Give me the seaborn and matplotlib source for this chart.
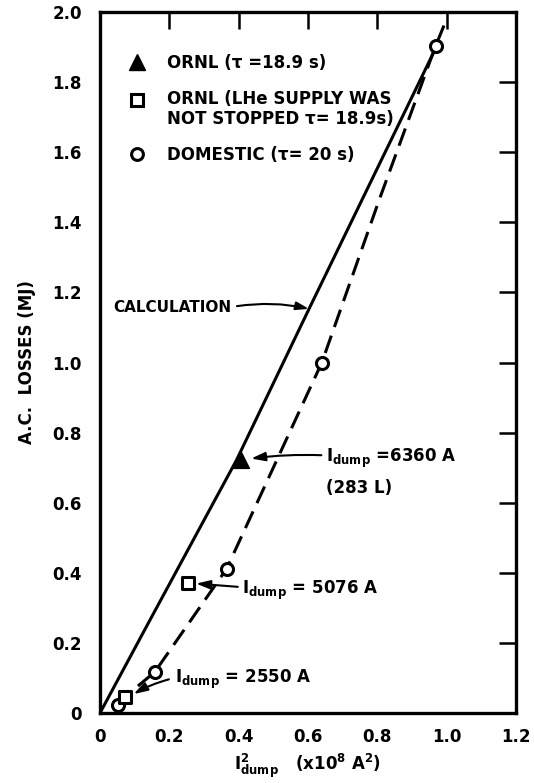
import numpy as np
import pandas as pd
import matplotlib
matplotlib.use("Agg")
import matplotlib.pyplot as plt
from matplotlib.lines import Line2D
from matplotlib.legend_handler import HandlerLine2D
import seaborn as sns

# ---------------- data ----------------
calc_x = [0.0, 0.144, 0.394, 0.603, 0.965]
calc_y = [0.0, 0.265, 0.722, 1.153, 1.890]

fit_x = [0.05, 0.072, 0.158, 0.365, 0.64, 0.805, 0.968, 1.0]
fit_y = [0.025, 0.046, 0.117, 0.411, 1.00, 1.463, 1.903, 1.98]

dom_x = [0.052, 0.158, 0.365, 0.64, 0.968]
dom_y = [0.023, 0.117, 0.411, 1.00, 1.903]

ornl_x = [0.408]
ornl_y = [0.722]

ornl_sq_x = [0.072, 0.253]
ornl_sq_y = [0.046, 0.371]

x_ticks = [0, 0.2, 0.4, 0.6, 0.8, 1.0, 1.2]
x_ticklabels = ["0", "0.2", "0.4", "0.6", "0.8", "1.0", "1.2"]
y_ticks = [0, 0.2, 0.4, 0.6, 0.8, 1.0, 1.2, 1.4, 1.6, 1.8, 2.0]
y_ticklabels = ["0", "0.2", "0.4", "0.6", "0.8", "1.0", "1.2", "1.4", "1.6", "1.8", "2.0"]

legend_labels = ["ORNL (τ =18.9 s)",
                 "ORNL (LHe SUPPLY WAS\nNOT STOPPED τ= 18.9s)",
                 "DOMESTIC (τ= 20 s)"]

# ---------------- style ----------------
sns.set_theme(style="white")
plt.rcParams["font.family"] = ["DejaVu Sans"]
plt.rcParams["font.weight"] = "bold"
plt.rcParams["mathtext.fontset"] = "dejavusans"
for k in ["text.color", "axes.labelcolor", "xtick.color", "ytick.color", "axes.edgecolor"]:
    plt.rcParams[k] = "black"

FS = 12
fig = plt.figure(figsize=(5.34, 7.83), dpi=100)
ax = fig.add_axes([100 / 534, 1 - 713 / 783, 416 / 534, 701 / 783])

calc_df = pd.DataFrame({"x": calc_x, "y": calc_y})
fit_df = pd.DataFrame({"x": fit_x, "y": fit_y})
sns.lineplot(data=calc_df, x="x", y="y", ax=ax, color="black", lw=2.2,
             sort=False, estimator=None)
sns.lineplot(data=fit_df, x="x", y="y", ax=ax, color="black", lw=2.2,
             sort=False, estimator=None, linestyle=(0, (6, 3)))

sns.scatterplot(x=dom_x, y=dom_y, ax=ax, marker="o", s=75, facecolor="white",
                edgecolor="black", linewidth=2.2, zorder=5)
sns.scatterplot(x=ornl_sq_x, y=ornl_sq_y, ax=ax, marker="s", s=85, facecolor="white",
                edgecolor="black", linewidth=2.2, zorder=5)
sns.scatterplot(x=ornl_x, y=ornl_y, ax=ax, marker="^", s=130, color="black",
                edgecolor="black", linewidth=1, zorder=5)

ax.set_xlim(0, 1.2)
ax.set_ylim(0, 2.0)
ax.set_xticks(x_ticks)
ax.set_xticklabels(x_ticklabels, fontsize=FS, fontweight="bold")
ax.set_yticks(y_ticks)
ax.set_yticklabels(y_ticklabels, fontsize=FS, fontweight="bold")
ax.tick_params(axis="both", direction="in", length=12, width=1.8,
               top=True, right=True, color="black")
ax.tick_params(axis="x", pad=11)
ax.tick_params(axis="y", pad=13)
for sp in ax.spines.values():
    sp.set_linewidth(2.4)
    sp.set_color("black")

ax.set_xlabel(r"$\mathbf{I_{dump}^{2}}$   (x10$^{\mathbf{8}}$ A$^{\mathbf{2}}$)",
              fontsize=FS, fontweight="bold", labelpad=4)
ax.set_ylabel("A.C.  LOSSES (MJ)", fontsize=FS, fontweight="bold", labelpad=12)


class ShiftedHandler(HandlerLine2D):
    def __init__(self, dy=0.0, **kw):
        super().__init__(**kw)
        self.dy = dy

    def create_artists(self, legend, orig_handle, xdescent, ydescent, width, height,
                       fontsize, trans):
        return super().create_artists(legend, orig_handle, xdescent,
                                      ydescent - 2 * self.dy, width, height,
                                      fontsize, trans)


# legend
handles = [
    Line2D([], [], marker="^", ls="", color="black", markersize=11),
    Line2D([], [], marker="s", ls="", markerfacecolor="white", markeredgecolor="black",
           markeredgewidth=2.2, markersize=9),
    Line2D([], [], marker="o", ls="", markerfacecolor="white", markeredgecolor="black",
           markeredgewidth=2.2, markersize=8.5),
]
leg = ax.legend(handles, legend_labels, loc="upper left", bbox_to_anchor=(0.07, 0.94),
                frameon=False, prop={"size": FS, "weight": "bold"},
                handlelength=1.0, handletextpad=1.25, labelspacing=1.05,
                borderaxespad=0, borderpad=0,
                handler_map={handles[1]: ShiftedHandler(dy=7.0)})

# annotations
arrow = dict(arrowstyle="-|>,head_length=0.7,head_width=0.22", color="black", lw=1.5)
ax.annotate("CALCULATION", xy=(0.603, 1.153), xytext=(0.037, 1.158),
            ha="left", va="center", fontsize=FS - 1, fontweight="bold",
            arrowprops=dict(arrow, relpos=(1, 0.5), shrinkA=2, shrinkB=0,
                            connectionstyle="arc3,rad=-0.1"))
ax.annotate(r"$\mathbf{I_{dump}}$ =6360 A", xy=(0.408, 0.722), xytext=(0.652, 0.727),
            ha="left", va="center", fontsize=FS, fontweight="bold",
            arrowprops=dict(arrow, relpos=(0, 0.62), shrinkA=1, shrinkB=7,
                            connectionstyle="arc3,rad=0.05"))
ax.text(0.652, 0.642, "(283 L)", ha="left", va="center", fontsize=FS, fontweight="bold")
ax.annotate(r"$\mathbf{I_{dump}}$ = 5076 A", xy=(0.253, 0.371), xytext=(0.411, 0.351),
            ha="left", va="center", fontsize=FS, fontweight="bold",
            arrowprops=dict(arrow, relpos=(0, 0.62), shrinkA=1, shrinkB=6))
ax.annotate(r"$\mathbf{I_{dump}}$ = 2550 A", xy=(0.09, 0.05), xytext=(0.216, 0.097),
            ha="left", va="center", fontsize=FS, fontweight="bold",
            arrowprops=dict(arrow, relpos=(0, 0.55), shrinkA=2, shrinkB=2,
                            connectionstyle="arc3,rad=0.08"))

fig.savefig("out.png", dpi=100)
